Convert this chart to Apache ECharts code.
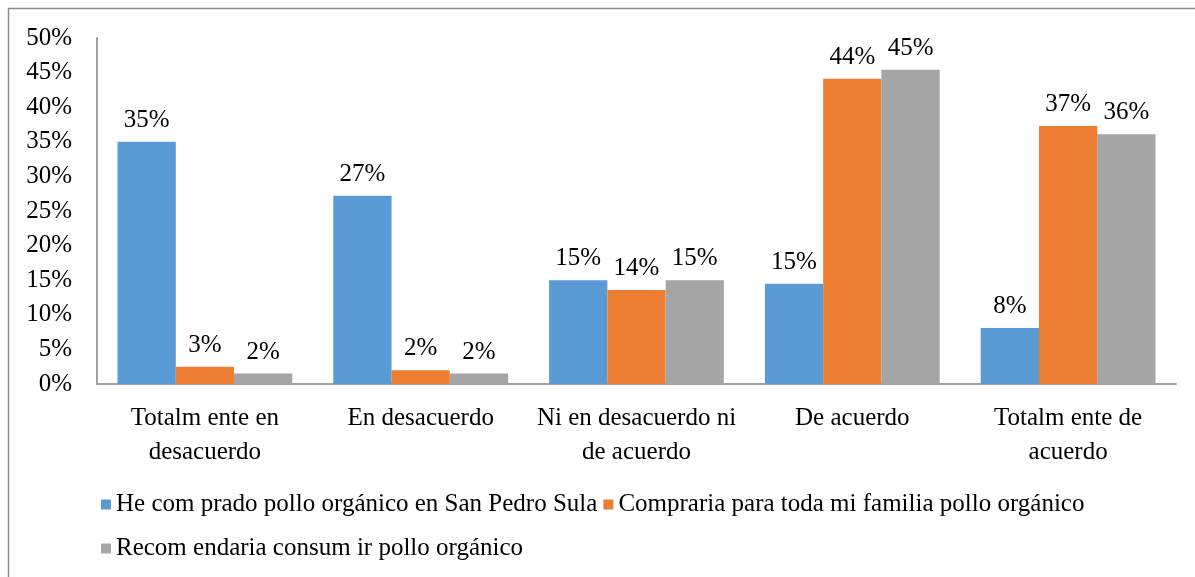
<!DOCTYPE html>
<html>
<head>
<meta charset="utf-8">
<script src="https://cdn.jsdelivr.net/npm/echarts@6/dist/echarts.min.js"></script>
<style>
  html, body { margin: 0; padding: 0; background: #fff; }
  #main { width: 1195px; height: 577px; }
</style>
</head>
<body>
<div id="main"></div>
<script>
// categorías del eje x
const categories = [
  'Totalm ente en\ndesacuerdo',
  'En desacuerdo',
  'Ni en desacuerdo ni\nde acuerdo',
  'De acuerdo',
  'Totalm ente de\nacuerdo'
];
const seriesNames = [
  'He com prado pollo orgánico en San Pedro Sula',
  'Compraria para toda mi familia pollo orgánico',
  'Recom endaria consum ir pollo orgánico'
];
const compradoValues = [35.0, 27.2, 15.0, 14.5, 8.1];
const compraríaValues = [2.5, 2.0, 13.6, 44.1, 37.3];
const recomendariaValues = [1.5, 1.5, 15.0, 45.4, 36.1];
// etiquetas tal como aparecen en el gráfico
const compradoLabels = ['35%', '27%', '15%', '15%', '8%'];
const compraríaLabels = ['3%', '2%', '14%', '44%', '37%'];
const recomendariaLabels = ['2%', '2%', '15%', '45%', '36%'];
const yTicks = [0, 5, 10, 15, 20, 25, 30, 35, 40, 45, 50];

const colors = ['#5B9BD5', '#ED7D31', '#A5A5A5'];
const font = 'Liberation Serif';
const fs = 25;

const chart = echarts.init(document.getElementById('main'));

function makeSeries(name, values, labels, color) {
  return {
    name: name,
    type: 'bar',
    data: values,
    barWidth: '27%',
    barGap: '0%',
    itemStyle: { color: color },
    label: {
      show: true,
      position: 'top',
      distance: 9,
      fontFamily: font,
      fontSize: fs,
      color: '#000',
      formatter: p => labels[p.dataIndex]
    }
  };
}

const legendText = { fontFamily: font, fontSize: fs, color: '#000' };

chart.setOption({
  animation: false,
  graphic: [{
    type: 'rect',
    shape: { x: 8.5, y: 8.5, width: 1200, height: 600 },
    style: { fill: 'none', stroke: '#8c8c8c', lineWidth: 1.5 },
    silent: true
  }],
  grid: { left: 97, right: 19, top: 38, bottom: 193 },
  legend: [
    {
      data: [seriesNames[0], seriesNames[1]],
      left: 96,
      top: 487,
      itemWidth: 10,
      itemHeight: 10,
      itemGap: 6,
      icon: 'rect',
      textStyle: legendText
    },
    {
      data: [seriesNames[2]],
      left: 96,
      top: 531,
      itemWidth: 10,
      itemHeight: 10,
      icon: 'rect',
      textStyle: legendText
    }
  ],
  xAxis: {
    type: 'category',
    data: categories,
    axisLine: { lineStyle: { color: '#a0a0a0', width: 2 } },
    axisTick: { show: false },
    axisLabel: {
      fontFamily: font,
      fontSize: fs,
      color: '#000',
      margin: 17,
      lineHeight: 34,
      interval: 0
    }
  },
  yAxis: {
    type: 'value',
    min: yTicks[0],
    max: yTicks[yTicks.length - 1],
    interval: 5,
    axisLine: { show: true, lineStyle: { color: '#a0a0a0', width: 2 } },
    axisTick: { show: false },
    splitLine: { show: false },
    axisLabel: {
      fontFamily: font,
      fontSize: fs,
      color: '#000',
      margin: 25,
      formatter: v => v + '%'
    }
  },
  series: [
    makeSeries(seriesNames[0], compradoValues, compradoLabels, colors[0]),
    makeSeries(seriesNames[1], compraríaValues, compraríaLabels, colors[1]),
    makeSeries(seriesNames[2], recomendariaValues, recomendariaLabels, colors[2])
  ]
});
</script>
</body>
</html>
